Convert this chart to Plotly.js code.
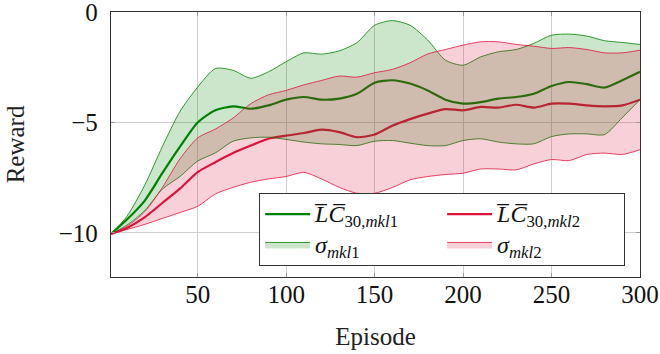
<!DOCTYPE html>
<html>
<head>
<meta charset="utf-8">
<script src="https://cdn.plot.ly/plotly-3.0.1.min.js"></script>
<style>html,body{margin:0;padding:0;background:#fff;}#chart{width:660px;height:354px;}</style>
</head>
<body>
<div id="chart"></div>
<script>
// Episode samples
const episodes = [1,10,20,30,40,50,60,70,80,90,100,110,120,130,140,150,160,170,180,190,200,210,220,230,240,250,260,270,280,290,300];

// mkl1 (green): running mean and its ±σ band edges
const meanMkl1 = [-10.05,-9.4,-8.55,-7.3,-6.1,-5.0,-4.45,-4.27,-4.38,-4.23,-3.97,-3.85,-3.97,-3.92,-3.7,-3.2,-3.09,-3.24,-3.55,-3.97,-4.15,-4.08,-3.92,-3.85,-3.7,-3.35,-3.17,-3.27,-3.42,-3.09,-2.71];
const upperMkl1 = [-10.05,-9.25,-7.85,-6.1,-4.5,-3.4,-2.56,-2.64,-3.0,-2.71,-2.25,-1.85,-1.91,-1.76,-1.39,-0.6,-0.39,-0.6,-1.27,-2.18,-2.41,-2.03,-1.8,-1.7,-1.42,-1.05,-1.0,-1.09,-1.3,-1.38,-1.47];
const lowerMkl1 = [-10.05,-9.65,-9.0,-8.02,-7.45,-6.75,-6.38,-5.85,-5.7,-5.67,-5.77,-5.89,-5.97,-6.0,-6.05,-5.85,-5.82,-5.94,-6.05,-6.05,-5.82,-5.74,-5.89,-5.97,-5.97,-5.64,-5.52,-5.52,-5.55,-4.78,-3.97];

// mkl2 (red): running mean and its ±σ band edges
const meanMkl2 = [-10.05,-9.78,-9.3,-8.65,-8.0,-7.25,-6.8,-6.39,-6.05,-5.74,-5.6,-5.48,-5.33,-5.44,-5.67,-5.55,-5.15,-4.85,-4.6,-4.4,-4.45,-4.3,-4.33,-4.2,-4.33,-4.15,-4.15,-4.23,-4.27,-4.23,-3.97];
const upperMkl2 = [-10.05,-9.7,-9.05,-7.95,-6.65,-5.7,-5.3,-4.8,-4.15,-3.75,-3.55,-3.3,-3.1,-2.9,-2.95,-2.75,-2.6,-2.3,-1.9,-1.7,-1.5,-1.35,-1.35,-1.47,-1.55,-1.65,-1.61,-1.7,-1.85,-1.85,-1.73];
const lowerMkl2 = [-10.05,-9.85,-9.62,-9.35,-9.08,-8.8,-8.24,-7.94,-7.71,-7.56,-7.45,-7.26,-7.56,-7.94,-8.21,-8.21,-7.95,-7.6,-7.45,-7.36,-7.3,-7.11,-7.11,-7.15,-6.88,-6.68,-6.73,-6.45,-6.39,-6.45,-6.24];

const yTicks = [-10, -5, 0];
const yTickText = ['−10', '−5', '0'];

const BIG = '<span style="font-size:24px">';
const seriesNames = [
  BIG + '<i>L̅C̅</i><sub>30,<i>mkl</i>1</sub></span>',
  BIG + '<i>L̅C̅</i><sub>30,<i>mkl</i>2</sub></span>',
  BIG + '<i>σ</i><sub><i>mkl</i>1</sub></span>',
  BIG + '<i>σ</i><sub><i>mkl</i>2</sub></span>'
];

const GREEN = 'rgb(0,128,0)';
const RED = 'rgb(220,20,60)';
const SM = 0.7;

const traces = [
  {x: episodes, y: meanMkl1, mode: 'lines', name: seriesNames[0], line: {color: GREEN, width: 2.2, shape: 'spline', smoothing: SM}},
  {x: episodes, y: meanMkl2, mode: 'lines', name: seriesNames[1], line: {color: RED, width: 2.2, shape: 'spline', smoothing: SM}},
  {x: episodes, y: upperMkl1, mode: 'lines', showlegend: false, line: {color: GREEN, width: 0.8, shape: 'spline', smoothing: SM}},
  {x: episodes, y: lowerMkl1, mode: 'lines', fill: 'tonexty', fillcolor: 'rgba(0,128,0,0.2)', name: seriesNames[2], line: {color: GREEN, width: 0.8, shape: 'spline', smoothing: SM}},
  {x: episodes, y: upperMkl2, mode: 'lines', showlegend: false, line: {color: RED, width: 0.8, shape: 'spline', smoothing: SM}},
  {x: episodes, y: lowerMkl2, mode: 'lines', fill: 'tonexty', fillcolor: 'rgba(220,20,60,0.2)', name: seriesNames[3], line: {color: RED, width: 0.8, shape: 'spline', smoothing: SM}}
];

const FONT = 'Liberation Serif, "Times New Roman", serif';

const layout = {
  width: 660, height: 354,
  margin: {l: 111, r: 20, t: 12, b: 77},
  paper_bgcolor: '#fff', plot_bgcolor: '#fff',
  font: {family: FONT, size: 25, color: '#111'},
  showlegend: true,
  xaxis: {
    range: [1, 300], tick0: 0, dtick: 50,
    showgrid: true, gridcolor: '#cfcfcf', gridwidth: 1,
    ticks: 'inside', ticklen: 4, tickcolor: '#999', mirror: 'allticks',
    showline: true, linecolor: '#333', linewidth: 1.2, zeroline: false,
    tickfont: {family: FONT, size: 25, color: '#111'}, ticklabelstandoff: -5,
    ticklabeloverflow: 'allow',
    title: {text: 'Episode', font: {family: FONT, size: 25, color: '#222'}, standoff: 20}
  },
  yaxis: {
    range: [-12, 0], tickmode: 'array', tickvals: yTicks, ticktext: yTickText,
    showgrid: true, gridcolor: '#cfcfcf', gridwidth: 1,
    ticks: 'inside', ticklen: 4, tickcolor: '#999', mirror: 'allticks',
    showline: true, linecolor: '#333', linewidth: 1.2, zeroline: false,
    tickfont: {family: FONT, size: 25, color: '#111'}, ticklabelstandoff: 7,
    ticklabeloverflow: 'allow',
    title: {text: 'Reward', font: {family: FONT, size: 25, color: '#222'}, standoff: 27}
  },
  legend: {
    orientation: 'h', x: 0.28, xanchor: 'left', y: 0.317, yanchor: 'top',
    bgcolor: '#fff', bordercolor: '#333', borderwidth: 1,
    font: {family: FONT, size: 21, color: '#111'},
    itemwidth: 45,
    entrywidth: 122, entrywidthmode: 'pixels', traceorder: 'normal'
  }
};

Plotly.newPlot('chart', traces, layout, {displayModeBar: false, staticPlot: true});
</script>
</body>
</html>
